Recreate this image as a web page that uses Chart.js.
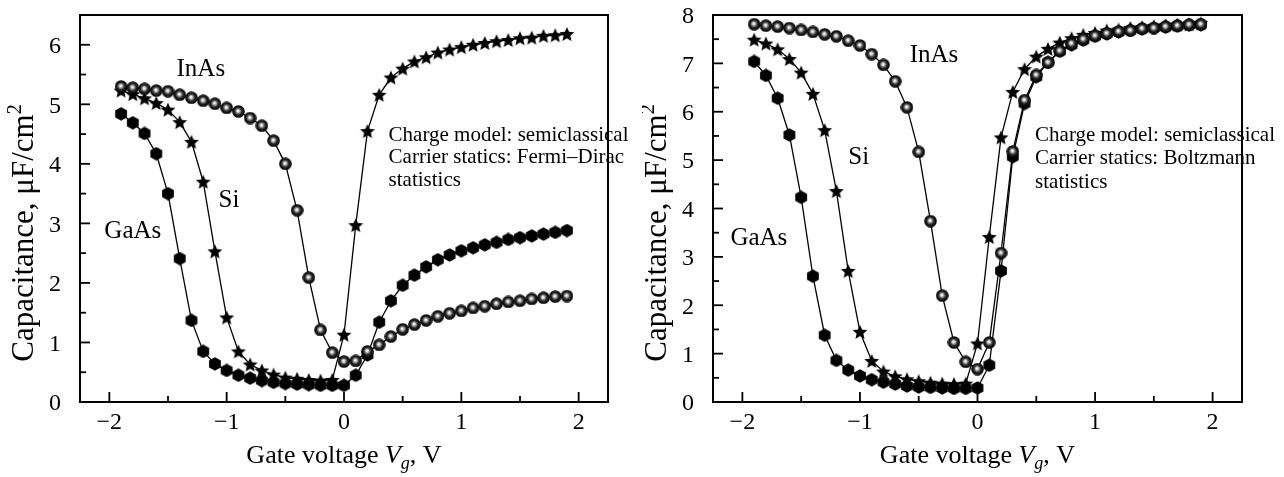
<!DOCTYPE html>
<html><head><meta charset="utf-8">
<script src="https://cdn.jsdelivr.net/npm/chart.js@4/dist/chart.umd.min.js"></script>
<style>
html,body{margin:0;padding:0;background:#fff;overflow:hidden}
#wrap{position:relative;width:1284px;height:477px;background:#fff}
canvas{position:absolute;top:0}
</style></head><body>
<div id="wrap">
<canvas id="c1" width="642" height="477" style="left:0"></canvas>
<canvas id="c2" width="642" height="477" style="left:642px"></canvas>
</div>
<script>
// ---------- data ----------
const gateVoltage = [-1.9,-1.8,-1.7,-1.6,-1.5,-1.4,-1.3,-1.2,-1.1,-1.0,
  -0.9,-0.8,-0.7,-0.6,-0.5,-0.4,-0.3,-0.2,-0.1,0.0,
  0.1,0.2,0.3,0.4,0.5,0.6,0.7,0.8,0.9,1.0,
  1.1,1.2,1.3,1.4,1.5,1.6,1.7,1.8,1.9];

// Left panel: Fermi–Dirac statistics
const fdInAs = [5.30,5.28,5.26,5.23,5.22,5.16,5.11,5.06,5.01,4.94,
  4.88,4.77,4.64,4.39,4.00,3.22,2.09,1.21,0.83,0.68,
  0.69,0.85,0.96,1.10,1.22,1.30,1.37,1.44,1.49,1.53,
  1.58,1.61,1.65,1.68,1.70,1.73,1.75,1.77,1.78];
const fdSi = [5.23,5.17,5.10,5.02,4.91,4.70,4.37,3.70,2.53,1.42,
  0.85,0.63,0.53,0.46,0.41,0.39,0.37,0.36,0.37,1.13,
  2.97,4.55,5.16,5.45,5.60,5.72,5.79,5.87,5.92,5.96,
  6.00,6.03,6.06,6.08,6.11,6.12,6.15,6.16,6.18];
const fdGaAs = [4.84,4.69,4.51,4.17,3.50,2.41,1.37,0.85,0.64,0.53,
  0.45,0.40,0.36,0.33,0.31,0.30,0.29,0.28,0.28,0.28,
  0.45,0.79,1.34,1.70,1.96,2.13,2.27,2.39,2.47,2.54,
  2.59,2.64,2.68,2.73,2.76,2.79,2.82,2.85,2.88];

// Right panel: Boltzmann statistics
const bzInAs = [7.81,7.78,7.76,7.73,7.69,7.65,7.60,7.56,7.47,7.37,
  7.19,6.97,6.63,6.09,5.17,3.74,2.20,1.23,0.83,0.68,
  1.23,3.08,5.18,6.24,6.76,7.02,7.26,7.41,7.50,7.57,
  7.62,7.66,7.68,7.72,7.73,7.76,7.78,7.80,7.81];
const bzSi = [7.49,7.41,7.29,7.09,6.81,6.37,5.62,4.36,2.71,1.45,
  0.85,0.63,0.53,0.47,0.43,0.40,0.38,0.37,0.38,1.21,
  3.41,5.47,6.41,6.88,7.14,7.30,7.43,7.52,7.59,7.63,
  7.68,7.70,7.73,7.75,7.77,7.79,7.80,7.81,7.83];
const bzGaAs = [7.04,6.75,6.28,5.52,4.23,2.60,1.38,0.86,0.66,0.54,
  0.46,0.41,0.37,0.33,0.31,0.30,0.29,0.28,0.28,0.29,
  0.76,2.71,5.07,6.17,6.72,7.02,7.25,7.38,7.48,7.56,
  7.61,7.65,7.68,7.71,7.73,7.75,7.77,7.79,7.80];

// axis ranges / ticks / labels
const xRange = [-2.25, 2.25];
const xTickValues = [-2,-1.5,-1,-0.5,0,0.5,1,1.5,2];
const fdYMax = 6.5;
const fdYTickValues = [0,0.5,1,1.5,2,2.5,3,3.5,4,4.5,5,5.5,6,6.5];
const bzYMax = 8;
const bzYTickValues = [0,0.5,1,1.5,2,2.5,3,3.5,4,4.5,5,5.5,6,6.5,7,7.5,8];
const xTitle = ['Gate voltage ', 'V', 'g', ', V'];
const yTitle = ['Capacitance, \u03BCF/cm', '2'];
const materialNames = ['InAs', 'Si', 'GaAs'];
const noteCommon = 'Charge model: semiclassical';
const fdNote = ['Carrier statics: Fermi\u2013Dirac', 'statistics'];
const bzNote = ['Carrier statics: Boltzmann', 'statistics'];

// ---------- styling ----------
const FONT = "'Liberation Serif','Times New Roman',serif";

function makeSphere(d){
  const c=document.createElement('canvas'); c.width=c.height=d;
  const g=c.getContext('2d'); const r=d/2;
  const grad=g.createRadialGradient(r-0.5,r-0.7,0,r,r,r);
  grad.addColorStop(0,'#ffffff');
  grad.addColorStop(0.15,'#ececec');
  grad.addColorStop(0.35,'#858585');
  grad.addColorStop(0.58,'#222222');
  grad.addColorStop(1,'#000000');
  g.fillStyle=grad; g.beginPath(); g.arc(r,r,r-0.2,0,Math.PI*2); g.fill();
  return c;
}
function makeStar(d){
  const c=document.createElement('canvas'); c.width=c.height=d;
  const g=c.getContext('2d'); const cx=d/2, cy=d/2+0.7;
  const R=d/2-0.2, r=R*0.45;
  g.fillStyle='#000'; g.beginPath();
  for(let i=0;i<10;i++){
    const a=-Math.PI/2+i*Math.PI/5; const rr=(i%2===0)?R:r;
    const px=cx+rr*Math.cos(a), py=cy+rr*Math.sin(a);
    if(i===0) g.moveTo(px,py); else g.lineTo(px,py);
  }
  g.closePath(); g.fill(); return c;
}
function makeHex(d){
  const c=document.createElement('canvas'); c.width=c.height=d;
  const g=c.getContext('2d'); const cx=d/2, cy=d/2, R=d/2-0.2;
  g.fillStyle='#000'; g.beginPath();
  for(let i=0;i<6;i++){
    const a=-Math.PI/2+i*Math.PI/3;
    const px=cx+R*Math.cos(a), py=cy+R*Math.sin(a);
    if(i===0) g.moveTo(px,py); else g.lineTo(px,py);
  }
  g.closePath(); g.fill(); return c;
}
const sphereImg = makeSphere(13);
const starImg = makeStar(16);
const hexImg = makeHex(14);

function ds(values, img){
  return {
    data: gateVoltage.map((x,i)=>({x:x, y:values[i]})),
    showLine:true, borderColor:'#000', borderWidth:1.3,
    pointStyle:img, pointRadius:6, pointHoverRadius:6
  };
}

function fmtTick(v){
  if (Math.abs(v-Math.round(v))>1e-9) return '';
  const n=Math.round(v);
  return n<0 ? '\u2212'+Math.abs(n) : String(n);
}

function drawSegments(ctx, segs, x, y, align){
  let w=0; segs.forEach(s=>{ctx.font=s.font; w+=ctx.measureText(s.t).width;});
  let cx = align==='center' ? x-w/2 : x;
  ctx.textAlign='left';
  segs.forEach(s=>{ctx.font=s.font; ctx.fillText(s.t, cx, y+(s.dy||0)); cx+=ctx.measureText(s.t).width;});
}

const decor = {
  id:'decor',
  afterDatasetsDraw(chart){
    const {ctx, chartArea:a} = chart;
    const xs = chart.scales.x, ys = chart.scales.y;
    ctx.save();
    ctx.strokeStyle='#000'; ctx.lineWidth=2;
    ctx.strokeRect(a.left, a.top, a.right-a.left, a.bottom-a.top);
    ctx.lineWidth=1.8;
    xs.ticks.forEach(t=>{
      const v=t.value; if (v<=xs.min+1e-9 || v>=xs.max-1e-9) return;
      const major = Math.abs(v-Math.round(v))<1e-9;
      const px = xs.getPixelForValue(v);
      ctx.beginPath(); ctx.moveTo(px, a.bottom); ctx.lineTo(px, a.bottom-(major?10:6)); ctx.stroke();
    });
    ys.ticks.forEach(t=>{
      const v=t.value; if (v<=ys.min+1e-9 || v>=ys.max-1e-9) return;
      const major = Math.abs(v-Math.round(v))<1e-9;
      const py = ys.getPixelForValue(v);
      ctx.beginPath(); ctx.moveTo(a.left, py); ctx.lineTo(a.left+(major?10:6), py); ctx.stroke();
    });
    ctx.restore();
  },
  afterDraw(chart){
    const o = chart.options.plugins.decor;
    const {ctx, chartArea:a} = chart;
    const xs = chart.scales.x, ys = chart.scales.y;
    ctx.save();
    ctx.fillStyle='#000'; ctx.textBaseline='middle';
    o.labels.forEach(l=>{
      ctx.font = '25px '+FONT; ctx.textAlign='center';
      ctx.fillText(l.t, xs.getPixelForValue(l.x), ys.getPixelForValue(l.y));
    });
    ctx.font = '21px '+FONT; ctx.textAlign='left';
    o.notes.forEach((line,i)=>{
      ctx.fillText(line, xs.getPixelForValue(o.noteX), ys.getPixelForValue(o.noteY[i]));
    });
    ctx.textBaseline='alphabetic';
    const cx=(a.left+a.right)/2;
    drawSegments(ctx, [
      {t:xTitle[0], font:'26px '+FONT},
      {t:xTitle[1], font:'italic 26px '+FONT},
      {t:xTitle[2], font:'italic 18px '+FONT, dy:6},
      {t:xTitle[3], font:'26px '+FONT}
    ], cx, 463, 'center');
    ctx.translate(a.left-47, 233);
    ctx.rotate(-Math.PI/2);
    drawSegments(ctx, [
      {t:yTitle[0], font:'31px '+FONT},
      {t:yTitle[1], font:'20px '+FONT, dy:-12}
    ], 0, 0, 'center');
    ctx.restore();
  }
};

function makeChart(id, series, yMax, yTicks, geom, labels, notes, noteX, noteY){
  return new Chart(document.getElementById(id), {
    type:'scatter',
    data:{datasets:[ds(series[0], sphereImg), ds(series[1], starImg), ds(series[2], hexImg)]},
    options:{
      responsive:false, animation:false, events:[],
      layout:{padding:{left:0, top:geom.top, right:geom.right, bottom:0}},
      plugins:{legend:{display:false}, tooltip:{enabled:false},
        decor:{labels:labels, notes:notes, noteX:noteX, noteY:noteY}},
      scales:{
        x:{type:'linear', min:xRange[0], max:xRange[1],
          grid:{display:false}, border:{display:false},
          afterBuildTicks:s=>{s.ticks=xTickValues.map(v=>({value:v}));},
          ticks:{autoSkip:false, maxRotation:0, padding:-2, color:'#000',
            font:{family:FONT, size:24}, callback:fmtTick},
          afterFit:s=>{s.height=geom.xh; s.paddingLeft=0; s.paddingRight=0;}},
        y:{type:'linear', min:0, max:yMax,
          grid:{display:false}, border:{display:false},
          afterBuildTicks:s=>{s.ticks=yTicks.map(v=>({value:v}));},
          ticks:{autoSkip:false, padding:11, color:'#000', labelOffset:2,
            font:{family:FONT, size:24}, callback:fmtTick},
          afterFit:s=>{s.width=geom.yw; s.paddingTop=0; s.paddingBottom=0;}}
      }
    },
    plugins:[decor]
  });
}

makeChart('c1', [fdInAs, fdSi, fdGaAs], fdYMax, fdYTickValues,
  {top:15, right:34, xh:75, yw:80},
  [{t:materialNames[0], x:-1.22, y:5.58},{t:materialNames[1], x:-0.98, y:3.38},{t:materialNames[2], x:-1.80, y:2.86}],
  [noteCommon].concat(fdNote), 0.38, [4.47, 4.10, 3.72]);

makeChart('c2', [bzInAs, bzSi, bzGaAs], bzYMax, bzYTickValues,
  {top:15, right:42, xh:75, yw:71},
  [{t:materialNames[0], x:-0.37, y:7.16},{t:materialNames[1], x:-1.01, y:5.06},{t:materialNames[2], x:-1.86, y:3.38}],
  [noteCommon].concat(bzNote), 0.49, [5.51, 5.03, 4.54]);
</script>
</body></html>
